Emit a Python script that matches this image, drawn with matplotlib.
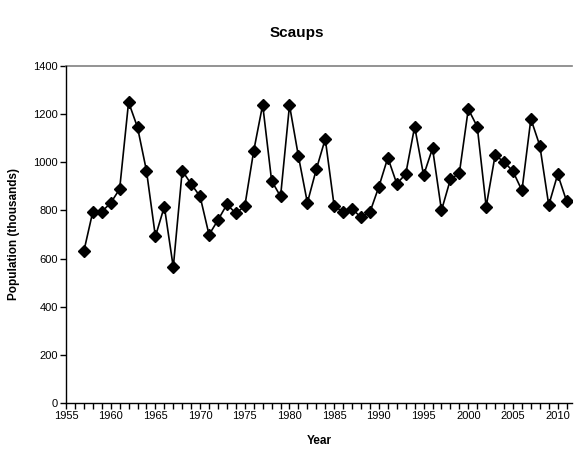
import matplotlib
matplotlib.use("Agg")
import matplotlib.pyplot as plt
from matplotlib.ticker import MultipleLocator

plt.rcParams["font.family"] = ["Liberation Sans", "DejaVu Sans"]

years = list(range(1957, 2012))
population = [
    631, 795, 795, 831, 889, 1250, 1145, 965, 692, 816,
    564, 965, 910, 858, 699, 760, 825, 788, 818, 1048,
    1239, 923, 858, 1237, 1025, 832, 971, 1097, 817, 795,
    807, 771, 793, 899, 1019, 911, 951, 1148, 946, 1058,
    800, 929, 955, 1221, 1148, 816, 1029, 1002, 962, 883,
    1180, 1069, 822, 950, 838,
]
year_ticks = list(range(1955, 2011, 5))
pop_ticks = list(range(0, 1401, 200))

fig = plt.figure(figsize=(5.75, 4.59), dpi=100)
ax = fig.add_axes([66 / 575, 1 - 403 / 459, (572 - 66) / 575, (403 - 66) / 459])

ax.plot(years, population, color="black", linewidth=1.2,
        marker="D", markersize=6, markerfacecolor="black", markeredgecolor="black")

ax.set_xlim(1955.1, 2011.6)
ax.set_ylim(0, 1400)
ax.set_xticks(year_ticks)
ax.xaxis.set_minor_locator(MultipleLocator(1))
ax.set_yticks(pop_ticks)

ax.tick_params(axis="both", labelsize=8, direction="out", color="black", width=1)
ax.tick_params(axis="x", which="major", length=4, pad=2)
ax.tick_params(axis="x", which="minor", length=4, width=1)
ax.tick_params(axis="y", length=4, pad=2)

for side in ("top", "right"):
    ax.spines[side].set_visible(False)
ax.spines["left"].set_linewidth(1)
ax.spines["bottom"].set_linewidth(1)
ax.axhline(1400, color="#808080", linewidth=1.2, clip_on=False)

ax.set_xlabel("Year", fontsize=8.5, fontweight="bold", labelpad=10)
ax.set_ylabel("Population (thousands)", fontsize=8.5, fontweight="bold", labelpad=9)
fig.text(297 / 575, 1 - 33 / 459, "Scaups", fontsize=11, fontweight="bold",
         ha="center", va="center")

fig.savefig("out.png", dpi=100)
